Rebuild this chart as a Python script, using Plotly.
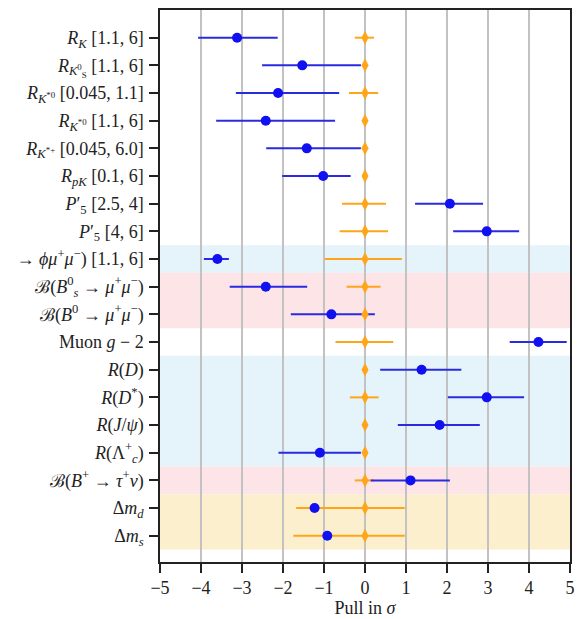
import plotly.graph_objects as go

labels = [
    "<i>R</i><sub><i>K</i></sub> [1.1, 6]",
    "<i>R</i><sub><i>K</i><sup>0</sup><sub>S</sub></sub> [1.1, 6]",
    "<i>R</i><sub><i>K</i><sup>*0</sup></sub> [0.045, 1.1]",
    "<i>R</i><sub><i>K</i><sup>*0</sup></sub> [1.1, 6]",
    "<i>R</i><sub><i>K</i><sup>*+</sup></sub> [0.045, 6.0]",
    "<i>R</i><sub><i>pK</i></sub> [0.1, 6]",
    "<i>P</i>′<sub>5</sub> [2.5, 4]",
    "<i>P</i>′<sub>5</sub> [4, 6]",
    "→ <i>ϕμ</i><sup>+</sup><i>μ</i><sup>−</sup>) [1.1, 6]",
    "ℬ(<i>B</i><sup>0</sup><sub><i>s</i></sub> → <i>μ</i><sup>+</sup><i>μ</i><sup>−</sup>)",
    "ℬ(<i>B</i><sup>0</sup> → <i>μ</i><sup>+</sup><i>μ</i><sup>−</sup>)",
    "Muon <i>g</i> − 2",
    "<i>R</i>(<i>D</i>)",
    "<i>R</i>(<i>D</i><sup>*</sup>)",
    "<i>R</i>(<i>J</i>/<i>ψ</i>)",
    "<i>R</i>(Λ<sup>+</sup><sub><i>c</i></sub>)",
    "ℬ(<i>B</i><sup>+</sup> → <i>τ</i><sup>+</sup><i>ν</i>)",
    "Δ<i>m</i><sub><i>d</i></sub>",
    "Δ<i>m</i><sub><i>s</i></sub>",
]

# measured pulls (blue) with asymmetric uncertainties
pull = [-3.12, -1.53, -2.12, -2.42, -1.42, -1.02, 2.07, 2.97, -3.60, -2.42,
        -0.82, 4.23, 1.38, 2.97, 1.82, -1.10, 1.11, -1.23, -0.92]
pull_lo = [0.95, 0.98, 1.03, 1.21, 0.99, 1.00, 0.85, 0.82, 0.33, 0.88,
           0.99, 0.70, 1.01, 0.95, 1.02, 1.01, 0.97, 0.0, 0.0]
pull_hi = [0.99, 1.43, 1.49, 1.69, 1.32, 0.67, 0.81, 0.79, 0.28, 1.01,
           1.06, 0.69, 0.97, 0.91, 0.98, 1.00, 0.96, 0.0, 0.0]

# SM prediction (orange) uncertainties around zero
sm = [0.0] * 19
sm_lo = [0.25, 0.05, 0.39, 0.05, 0.05, 0.05, 0.56, 0.62, 0.98, 0.45,
         0.10, 0.72, 0.05, 0.37, 0.05, 0.05, 0.25, 1.68, 1.75]
sm_hi = [0.22, 0.05, 0.32, 0.05, 0.05, 0.05, 0.51, 0.56, 0.90, 0.38,
         0.10, 0.69, 0.05, 0.33, 0.05, 0.05, 0.22, 0.97, 0.97]

# shaded bands: (first row, last row, colour)
bands = [(8, 8, "#e5f3fb"), (9, 10, "#fde4e7"), (12, 15, "#e5f3fb"),
         (16, 16, "#fde4e7"), (17, 18, "#fcefce")]

rows = list(range(len(labels)))
BLUE = "#1010f0"
ORANGE = "#ffa51a"

fig = go.Figure()
fig.add_trace(go.Scatter(
    x=sm, y=rows, mode="markers",
    marker=dict(size=1, color="rgba(0,0,0,0)"),
    error_x=dict(type="data", symmetric=False, array=sm_hi, arrayminus=sm_lo,
                 color=ORANGE, thickness=2, width=0),
    hoverinfo="skip", showlegend=False))
fig.add_trace(go.Scatter(
    x=pull, y=rows, mode="markers",
    marker=dict(size=10, color=BLUE),
    error_x=dict(type="data", symmetric=False, array=pull_hi, arrayminus=pull_lo,
                 color="#2a2ae0", thickness=2, width=0),
    showlegend=False))
fig.add_trace(go.Scatter(
    x=sm, y=rows, mode="markers",
    marker=dict(size=10, color=ORANGE, symbol="diamond-tall"),
    showlegend=False))

for a, b, c in bands:
    fig.add_shape(type="rect", xref="x", yref="y", x0=-5, x1=5,
                  y0=a - 0.5, y1=b + 0.5, fillcolor=c, line_width=0,
                  layer="below")

font = dict(family="Liberation Serif, DejaVu Serif, serif", size=18, color="#222")

fig.update_layout(
    width=587, height=619,
    margin=dict(l=160, r=17, t=8, b=55),
    paper_bgcolor="white", plot_bgcolor="white",
    font=font,
    xaxis=dict(range=[-5, 5], tickvals=[-5, -4, -3, -2, -1, 0, 1, 2, 3, 4, 5],
               ticktext=["−5", "−4", "−3", "−2", "−1", "0", "1", "2", "3", "4", "5"],
               showgrid=True, gridcolor="#c2c2c2", gridwidth=1.5,
               zeroline=False, ticks="outside", ticklen=9, tickwidth=1.5,
               tickcolor="#222", showline=True, linecolor="#222", linewidth=1.5,
               mirror=True, tickfont=dict(size=18),
               title=dict(text="Pull in <i>σ</i>", standoff=0, font=font)),
    yaxis=dict(range=[18.95, -1.0], tickvals=rows, ticktext=labels,
               showgrid=False, zeroline=False, ticks="outside", ticklen=9,
               tickwidth=1.5, tickcolor="#222", showline=True, linecolor="#222",
               linewidth=1.5, mirror=True, automargin=False,
               ticklabelstandoff=2),
)

fig.write_html("out.html")
